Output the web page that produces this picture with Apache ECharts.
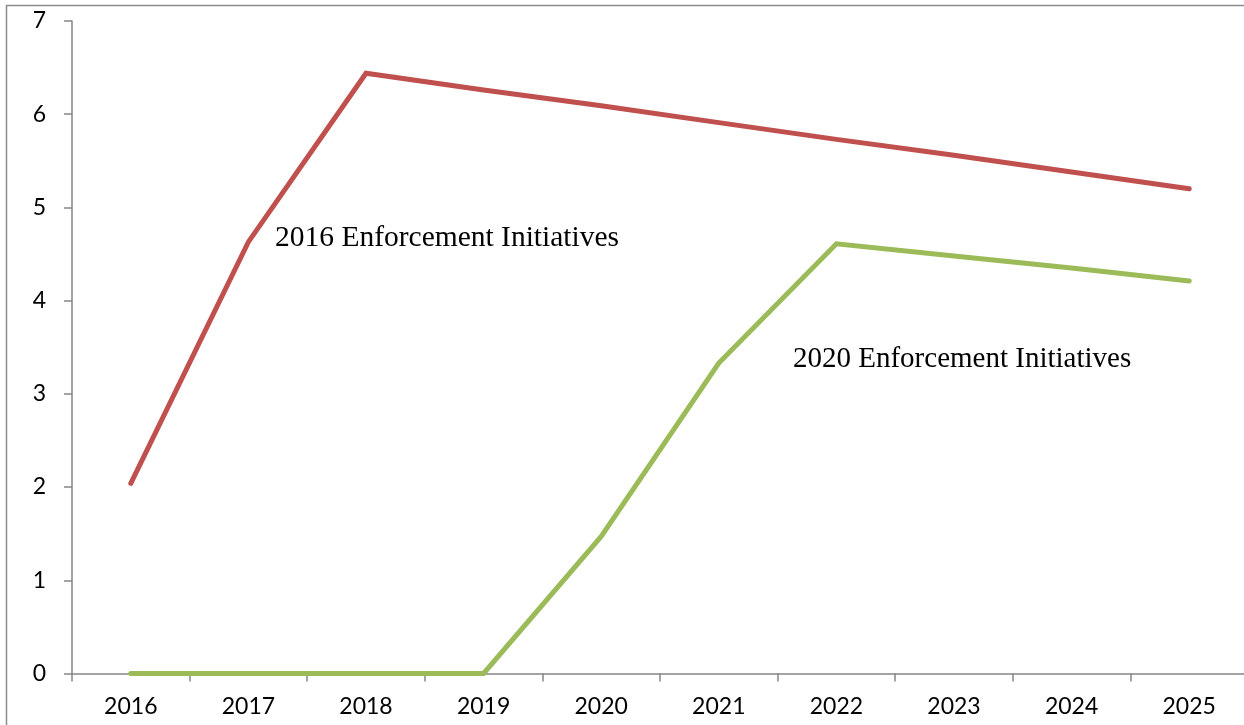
<!DOCTYPE html>
<html>
<head>
<meta charset="utf-8">
<script src="https://cdn.jsdelivr.net/npm/echarts@6/dist/echarts.min.js"></script>
<style>
html,body{margin:0;padding:0;background:#fff;}
#main{width:1244px;height:725px;}
</style>
</head>
<body>
<div id="main"></div>
<script>
var categories = ['2016','2017','2018','2019','2020','2021','2022','2023','2024','2025'];
var series2016 = [2.04, 4.63, 6.44, 6.26, 6.09, 5.91, 5.73, 5.56, 5.38, 5.20];
var series2020 = [0, 0, 0, 0, 1.47, 3.33, 4.61, 4.48, 4.35, 4.21];
var yTicks = {min: 0, max: 7, interval: 1};
var annotation1 = '2016 Enforcement Initiatives';
var annotation2 = '2020 Enforcement Initiatives';

var chart = echarts.init(document.getElementById('main'), null, {renderer: 'canvas'});
var axisColor = '#868686';
chart.setOption({
  animation: false,
  backgroundColor: '#fff',
  grid: {left: 72, top: 21, width: 1176, bottom: 51.5, containLabel: false, outerBoundsMode: 'none'},
  xAxis: {
    type: 'category',
    data: categories,
    boundaryGap: true,
    axisLine: {show: true, lineStyle: {color: axisColor, width: 1.5}},
    axisTick: {show: true, length: 8, lineStyle: {color: axisColor, width: 1.5}},
    axisLabel: {color: '#000', fontFamily: 'Lato', fontSize: 23, margin: 22},
    splitLine: {show: false}
  },
  yAxis: {
    type: 'value',
    min: yTicks.min, max: yTicks.max, interval: yTicks.interval,
    axisLine: {show: true, lineStyle: {color: axisColor, width: 1.5}},
    axisTick: {show: true, length: 8, lineStyle: {color: axisColor, width: 1.5}},
    axisLabel: {color: '#000', fontFamily: 'Lato', fontSize: 23, margin: 26},
    splitLine: {show: false}
  },
  series: [
    {
      name: annotation1, type: 'line', data: series2016,
      symbol: 'none',
      lineStyle: {color: '#C0504D', width: 5, cap: 'round', join: 'miter'},
      itemStyle: {color: '#C0504D'}
    },
    {
      name: annotation2, type: 'line', data: series2020,
      symbol: 'none',
      lineStyle: {color: '#9BBB59', width: 5, cap: 'round', join: 'miter'},
      itemStyle: {color: '#9BBB59'}
    }
  ],
  graphic: [
    {type: 'rect', shape: {x: 6.5, y: 5.5, width: 1400, height: 900}, style: {fill: 'none', stroke: '#8c8c8c', lineWidth: 1.5}, silent: true, z: 0},
    {type: 'text', x: 275, y: 238, style: {text: annotation1, fontFamily: 'Liberation Serif', fontSize: 29.5, fill: '#000', verticalAlign: 'middle', align: 'left'}},
    {type: 'text', x: 793, y: 359, style: {text: annotation2, fontFamily: 'Liberation Serif', fontSize: 29, fill: '#000', verticalAlign: 'middle', align: 'left'}}
  ]
});
</script>
</body>
</html>
